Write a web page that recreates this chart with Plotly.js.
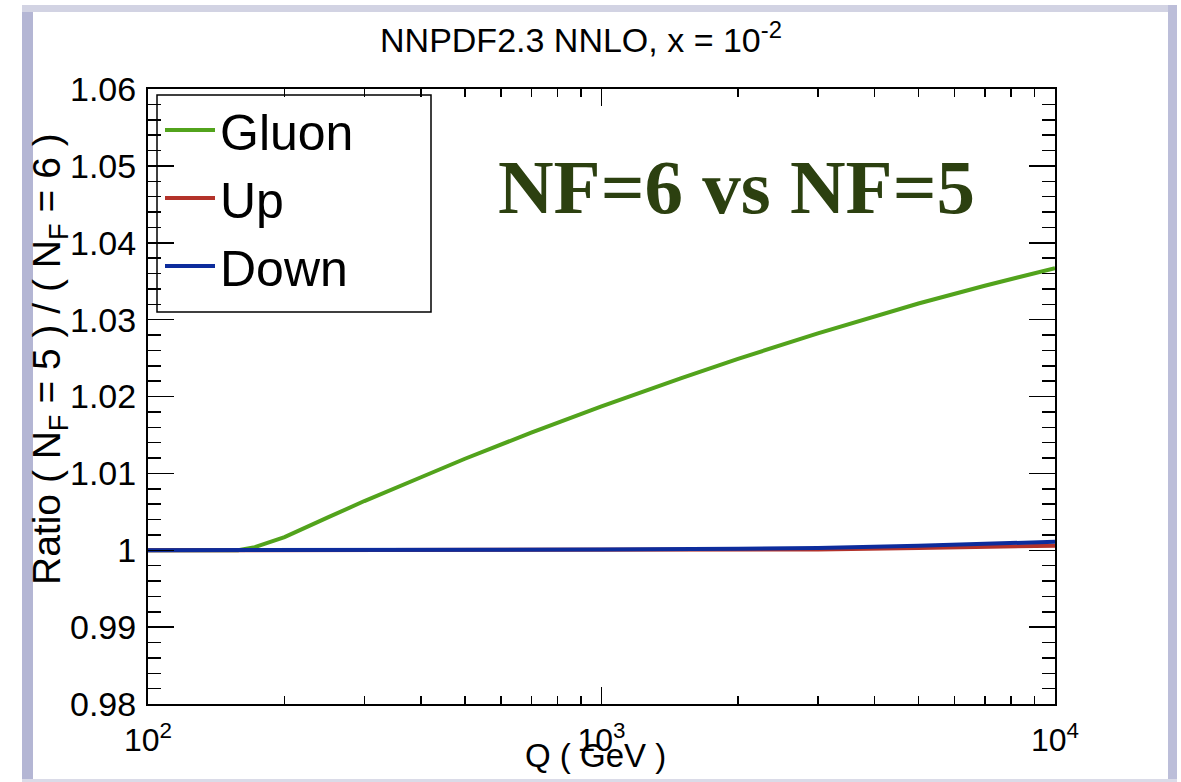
<!DOCTYPE html>
<html>
<head>
<meta charset="utf-8">
<script src="https://cdn.plot.ly/plotly-3.0.1.min.js"></script>
<style>
html,body{margin:0;padding:0;background:#fff;}
#chart{width:1181px;height:782px;}
</style>
</head>
<body>
<div id="chart"></div>
<script>
// ---- data ----
const qGluon = [100, 130, 158, 172, 188, 200, 250, 300, 400, 500, 700, 1000, 1500, 2000, 3000, 5000, 7000, 10000];
const gluon  = [1.0, 1.0, 1.0, 1.0004, 1.0011, 1.0017, 1.0043, 1.0064, 1.0095, 1.0119, 1.0153, 1.0187, 1.0224, 1.0249, 1.0282, 1.0321, 1.0344, 1.0367];
const qQuark = [100, 300, 1000, 2000, 3000, 5000, 7000, 10000];
const up     = [1.0, 1.0, 1.0, 1.0001, 1.0001, 1.0003, 1.0005, 1.0006];
const down   = [1.0, 1.0, 1.0001, 1.0002, 1.0003, 1.0006, 1.0008, 1.0011];
const seriesNames = ['Gluon', 'Up', 'Down'];
const xTickVals = [100, 1000, 10000];
const xTickText = ['10<sup>2</sup>', '10<sup>3</sup>', '10<sup>4</sup>'];
const yTickVals = [0.98, 0.99, 1.0, 1.01, 1.02, 1.03, 1.04, 1.05, 1.06];
const yTickText = ['0.98', '0.99', '1', '1.01', '1.02', '1.03', '1.04', '1.05', '1.06'];

// ---- layout helpers (pixel -> paper) ----
const L = 148, R = 1055, T = 89, B = 704;
const W = R - L, H = B - T;
const px = v => (v - L) / W;
const py = v => (B - v) / H;

const minorX = [];
for (let d = 100; d < 10000; d *= 10) for (let k = 2; k <= 9; k++) minorX.push(d * k);

const traces = [
  {x: qGluon, y: gluon, name: seriesNames[0], mode: 'lines', line: {color: '#52a31c', width: 4}},
  {x: qQuark, y: up,    name: seriesNames[1], mode: 'lines', line: {color: '#b3322a', width: 4}},
  {x: qQuark, y: down,  name: seriesNames[2], mode: 'lines', line: {color: '#0d2c9c', width: 4}}
];

const frameShapes = [
  {type: 'rect', xref: 'paper', yref: 'paper', x0: px(22), x1: px(33), y0: py(782), y1: py(5), fillcolor: '#b4b6d4', line: {width: 0}, layer: 'below'},
  {type: 'rect', xref: 'paper', yref: 'paper', x0: px(22), x1: px(1177), y0: py(12), y1: py(5), fillcolor: '#d2d3e3', line: {width: 0}, layer: 'below'},
  {type: 'rect', xref: 'paper', yref: 'paper', x0: px(1168), x1: px(1177), y0: py(782), y1: py(5), fillcolor: '#bcbed9', line: {width: 0}, layer: 'below'},
  {type: 'rect', xref: 'paper', yref: 'paper', x0: px(22), x1: px(1177), y0: py(782), y1: py(779), fillcolor: '#dadbe8', line: {width: 0}, layer: 'below'},
  // legend box
  {type: 'rect', xref: 'paper', yref: 'paper', x0: px(157), x1: px(431), y0: py(312), y1: py(95), fillcolor: 'rgba(0,0,0,0)', line: {color: '#000', width: 1.5}, layer: 'above'}
];

const layout = {
  width: 1181, height: 782,
  margin: {l: L, r: 1181 - R, t: T, b: 782 - B},
  paper_bgcolor: '#ffffff', plot_bgcolor: '#ffffff',
  font: {family: 'Liberation Sans, Arial, sans-serif', color: '#000'},
  title: {text: 'NNPDF2.3 NNLO, x = 10<sup>-2</sup>', font: {size: 34, color: '#000'}, x: 581 / 1181, xanchor: 'center', y: 1 - 40 / 782, yanchor: 'middle', xref: 'container', yref: 'container'},
  showlegend: true,
  legend: {x: px(160), y: py(91), xanchor: 'left', yanchor: 'top', bgcolor: 'rgba(0,0,0,0)', borderwidth: 0, itemwidth: 50, font: {size: 50, color: '#000'}},
  xaxis: {
    type: 'log', range: [2, 4], autorange: false,
    tickmode: 'array', tickvals: xTickVals, ticktext: xTickText,
    ticks: 'inside', ticklen: 17, tickwidth: 1.5, tickcolor: '#000',
    minor: {tickmode: 'array', tickvals: minorX, ticks: 'inside', ticklen: 8, tickwidth: 1.5, tickcolor: '#000', showgrid: false},
    showline: true, linecolor: '#000', linewidth: 2, mirror: 'allticks',
    showgrid: false, zeroline: false,
    tickfont: {size: 32}, ticklabelstandoff: 7
  },
  yaxis: {
    range: [0.98, 1.06], autorange: false,
    tickmode: 'array', tickvals: yTickVals, ticktext: yTickText,
    ticks: 'inside', ticklen: 26, tickwidth: 1.5, tickcolor: '#000',
    minor: {dtick: 0.002, tick0: 0.98, ticks: 'inside', ticklen: 13, tickwidth: 1.5, tickcolor: '#000', showgrid: false},
    showline: true, linecolor: '#000', linewidth: 2, mirror: 'allticks',
    showgrid: false, zeroline: false,
    tickfont: {size: 34}, ticklabelstandoff: 3
  },
  shapes: frameShapes,
  annotations: [
    {xref: 'paper', yref: 'paper', x: px(736), y: py(187), xanchor: 'center', yanchor: 'middle', showarrow: false,
     text: '<b>NF=6 vs NF=5</b>', font: {family: 'Liberation Serif, Times New Roman, serif', size: 77, color: '#2c4010'}},
    {xref: 'paper', yref: 'paper', x: px(595), y: py(755), xanchor: 'center', yanchor: 'middle', showarrow: false,
     text: 'Q ( GeV )', font: {size: 33, color: '#000'}},
    {xref: 'paper', yref: 'paper', x: px(50), y: py(359), xanchor: 'center', yanchor: 'middle', showarrow: false, textangle: -90,
     text: 'Ratio ( N<sub>F</sub> = 5 ) / ( N<sub>F</sub> = 6 )', font: {size: 39, color: '#000'}}
  ]
};

Plotly.newPlot('chart', traces, layout, {staticPlot: true});
</script>
</body>
</html>
